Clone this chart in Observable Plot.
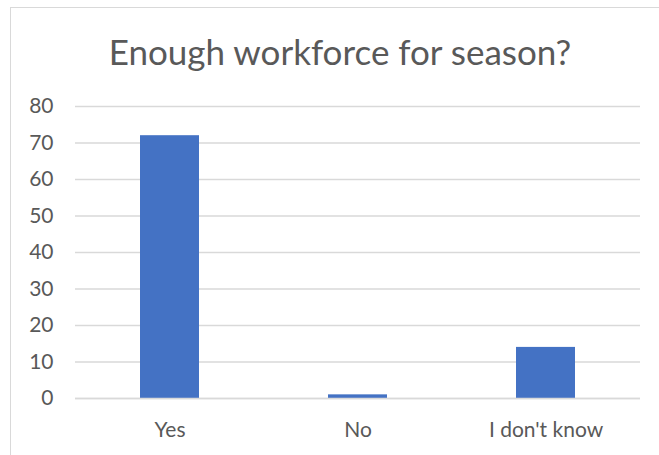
<!DOCTYPE html>
<html>
<head>
<meta charset="utf-8">
<script src="https://cdn.jsdelivr.net/npm/d3@7"></script>
<script src="https://cdn.jsdelivr.net/npm/@observablehq/plot@0.6"></script>
<style>
  html, body { margin: 0; padding: 0; background: #fff; }
  #wrap { position: relative; width: 659px; height: 455px; overflow: hidden; font-family: Lato, "Open Sans", sans-serif; }
  #frame { position: absolute; left: 10px; top: 7px; width: 700px; height: 500px; border: 1px solid #d9d9d9; box-sizing: border-box; }
  #title { position: absolute; left: 0; top: 31px; width: 680px; text-align: center; font-size: 35px; color: #595959; line-height: 40px; }
  #chart { position: absolute; left: 0; top: 85px; }
  #chart svg text { font-size: 21px; fill: #595959; }
</style>
</head>
<body>
<div id="wrap">
  <div id="frame"></div>
  <div id="title">Enough workforce for season?</div>
  <div id="chart"></div>
</div>
<script>
const categories = ["Yes", "No", "I don't know"];
const values = [72, 1, 14];
const yTicks = [0, 10, 20, 30, 40, 50, 60, 70, 80];

const data = categories.map((c, i) => ({category: c, value: values[i]}));

const chart = Plot.plot({
  width: 659,
  height: 370,
  marginTop: 21,
  marginBottom: 57,
  marginLeft: 75,
  marginRight: 19,
  style: {fontFamily: "Lato, 'Open Sans', sans-serif", fontSize: "21px", color: "#595959", background: "transparent"},
  x: {domain: categories, paddingInner: 0.686, paddingOuter: 0.343, label: null},
  y: {domain: [0, 80], label: null},
  marks: [
    Plot.ruleY(yTicks, {stroke: "#d9d9d9", strokeWidth: 1.3}),
    Plot.barY(data, {x: "category", y: "value", fill: "#4472C4"}),
    Plot.ruleY([0], {stroke: "#d9d9d9", strokeWidth: 1.3}),
    Plot.axisY({ticks: yTicks, tickSize: 0, tickPadding: 22, label: null, fontSize: 21, fill: "#595959"}),
    Plot.axisX({tickSize: 0, tickPadding: 24, label: null, fontSize: 21, fill: "#595959"})
  ]
});
document.getElementById("chart").appendChild(chart);
</script>
</body>
</html>
